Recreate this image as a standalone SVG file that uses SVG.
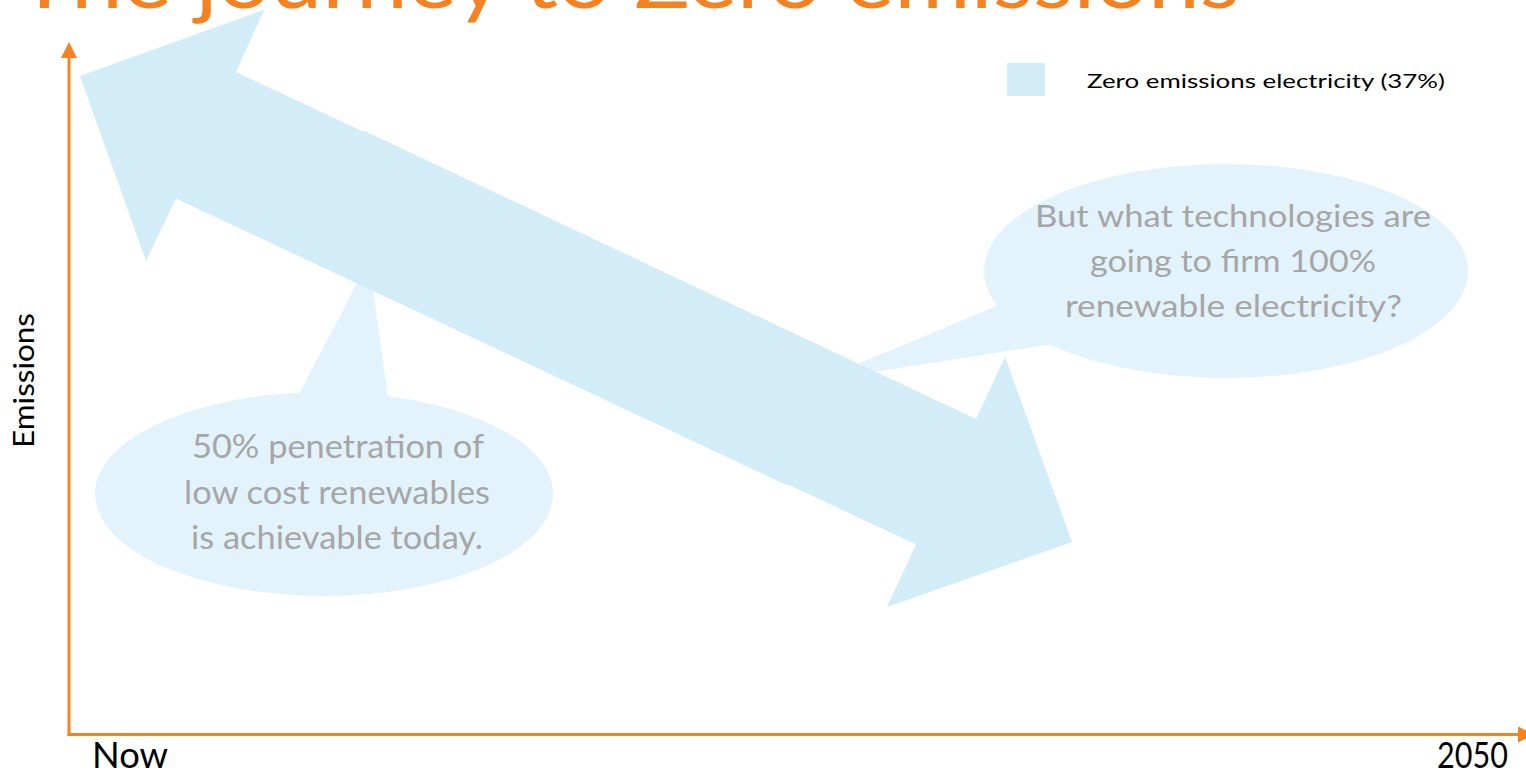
<svg xmlns="http://www.w3.org/2000/svg" width="1526" height="773" viewBox="0 0 1526 773">
  <defs>
    <style>
      .title { font-family: "Lato", "Open Sans", sans-serif; font-size: 84px; fill: #F58220; }
      .bubble { fill: #E3F3FB; }
      .arrow { fill: #D2ECF8; }
      .btext { font-family: "Lato", "Open Sans", sans-serif; fill: #A6A6A6; text-anchor: start; }
      .axis { stroke: #F58220; stroke-width: 3; fill: none; }
      .label { font-family: "Lato", "Open Sans", sans-serif; fill: #000000; }
    </style>
    <marker id="ah" markerUnits="userSpaceOnUse" markerWidth="18" markerHeight="18" refX="2" refY="8" orient="auto">
      <path d="M0,0 L16,8 L0,16 Z" fill="#F58220"/>
    </marker>
  </defs>
  <rect width="1526" height="773" fill="#FFFFFF"/>

  <g id="title">
    <text class="title" x="17" y="8" textLength="1223" lengthAdjust="spacingAndGlyphs">The journey to Zero emissions</text>
  </g>

  <g id="connectors">
    <polyline class="axis" points="69,736 69,56" marker-end="url(#ah)"/>
    <polyline class="axis" points="67.5,734.5 1520,734.5" marker-end="url(#ah)"/>
  </g>

  <g id="callout-left">
    <ellipse class="bubble" cx="324" cy="494" rx="229" ry="102"/>
    <polygon class="bubble" points="298,396 369,260 388,398"/>
    <text class="btext" font-size="32" x="192" y="458" textLength="292" lengthAdjust="spacingAndGlyphs">50% penetration of</text>
    <text class="btext" font-size="32" x="184" y="504" textLength="306" lengthAdjust="spacingAndGlyphs">low cost renewables</text>
    <text class="btext" font-size="32" x="191" y="549" textLength="292" lengthAdjust="spacingAndGlyphs">is achievable today.</text>
  </g>

  <g id="callout-right">
    <ellipse class="bubble" cx="1226" cy="271" rx="242" ry="107"/>
    <polygon class="bubble" points="1004,303 817,381 1052,344"/>
    <text class="btext" font-size="30" x="1035" y="227" textLength="396" lengthAdjust="spacingAndGlyphs">But what technologies are</text>
    <text class="btext" font-size="30" x="1090" y="272" textLength="286" lengthAdjust="spacingAndGlyphs">going to firm 100%</text>
    <text class="btext" font-size="30" x="1065" y="317" textLength="337" lengthAdjust="spacingAndGlyphs">renewable electricity?</text>
  </g>

  <g id="double-arrow">
    <polygon class="arrow" points="80,76 264,10 236,72 363,131.5 364,130.8 976,419 1005,357 1072,542 887,607 916,544.5 788,484.5 787,485.2 176,198.5 146,261"/>
  </g>

  <g id="legend">
    <rect class="arrow" x="1007" y="63" width="38" height="33"/>
    <text class="label" font-size="20" x="1087" y="88" textLength="358" lengthAdjust="spacingAndGlyphs">Zero emissions electricity (37%)</text>
  </g>

  <g id="axis-labels">
    <text class="label" font-size="28" transform="translate(33.5,448) rotate(-90)" textLength="135" lengthAdjust="spacingAndGlyphs">Emissions</text>
    <text class="label" font-size="36" x="92" y="768" textLength="76" lengthAdjust="spacingAndGlyphs">Now</text>
    <text class="label" font-size="36" x="1437" y="768" textLength="71" lengthAdjust="spacingAndGlyphs">2050</text>
  </g>
</svg>
